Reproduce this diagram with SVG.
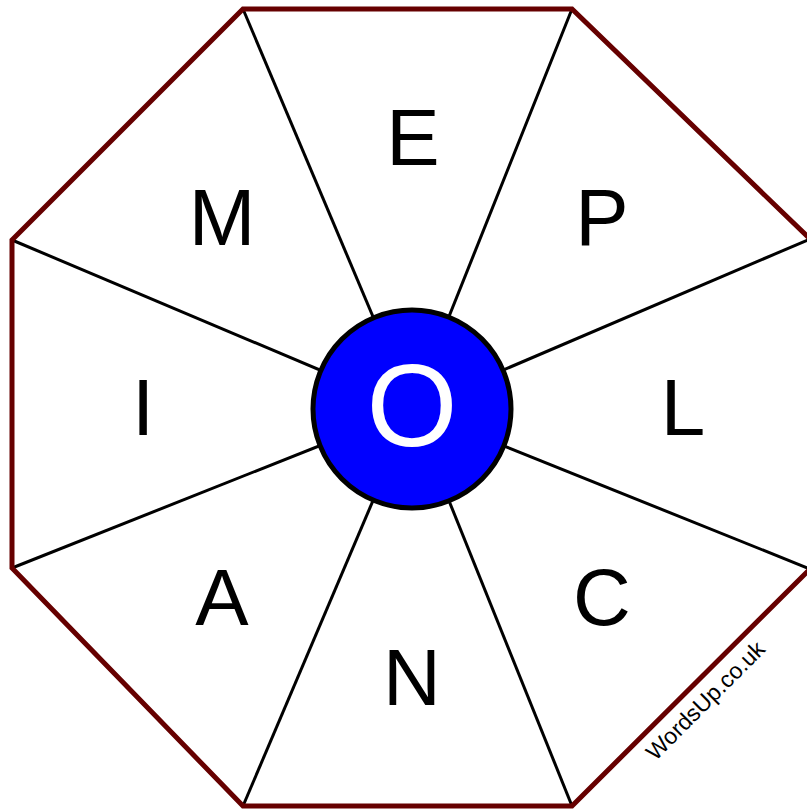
<svg xmlns="http://www.w3.org/2000/svg" width="807" height="809" viewBox="0 0 807 809">
<style>
.spoke{stroke:#000;stroke-width:3;fill:none}
.frame{stroke:#660000;stroke-width:5;fill:none;stroke-linejoin:miter}
.let{font-family:"Liberation Sans",Arial,sans-serif;font-size:80px;fill:#000;text-anchor:middle}
.mid{font-family:"Liberation Sans",Arial,sans-serif;font-size:117px;fill:#fff;text-anchor:middle}
.wm{font-family:"Liberation Sans",Arial,sans-serif;font-size:23px;fill:#000;text-anchor:middle}
</style>
<rect x="0" y="0" width="807" height="809" fill="#fff"/>
<g id="connectors">
<line class="spoke" x1="243" y1="9" x2="412" y2="409"/>
<line class="spoke" x1="572" y1="9" x2="412" y2="409"/>
<line class="spoke" x1="810" y1="239" x2="412" y2="409"/>
<line class="spoke" x1="810" y1="569" x2="412" y2="409"/>
<line class="spoke" x1="572" y1="806" x2="412" y2="409"/>
<line class="spoke" x1="243" y1="806" x2="412" y2="409"/>
<line class="spoke" x1="12" y1="568" x2="412" y2="409"/>
<line class="spoke" x1="12" y1="240" x2="412" y2="409"/>
</g>
<g id="frame">
<polygon class="frame" points="243,9 572,9 810,239 811,240 811,568 810,569 572,806 243,806 12,568 12,240"/>
</g>
<g id="node-E"><text class="let" x="413" y="165">E</text></g>
<g id="node-P"><text class="let" x="602" y="245">P</text></g>
<g id="node-L"><text class="let" x="683" y="435">L</text></g>
<g id="node-C"><text class="let" x="602" y="625">C</text></g>
<g id="node-N"><text class="let" x="412" y="705">N</text></g>
<g id="node-A"><text class="let" x="222" y="625">A</text></g>
<g id="node-I"><text class="let" x="143" y="435">I</text></g>
<g id="node-M"><text class="let" x="222" y="245">M</text></g>
<g id="node-O">
<circle cx="412" cy="409" r="99" fill="#0000ff" stroke="#000" stroke-width="5"/>
<text class="mid" x="412" y="446">O</text>
</g>
<g id="watermark"><text class="wm" x="711" y="706" transform="rotate(-45 711 706)">WordsUp.co.uk</text></g>
</svg>
